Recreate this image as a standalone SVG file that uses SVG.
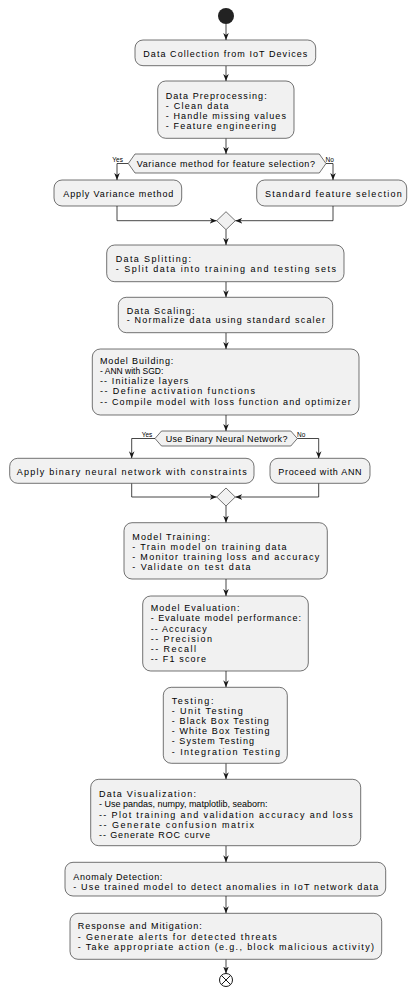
<svg xmlns="http://www.w3.org/2000/svg" width="408" height="988" viewBox="0 0 408 988">
<style>
.box{fill:#F1F1F1;stroke:#181818;stroke-width:0.6}
.t{font-family:"Liberation Sans",Arial,sans-serif;font-size:9px;fill:#000}
.lbl{font-family:"Liberation Sans",Arial,sans-serif;font-size:6.5px;fill:#000}
.c{fill:none;stroke:#181818;stroke-width:0.8;marker-end:url(#ah)}
</style>
<defs>
<marker id="ah" viewBox="0 0 10 10" refX="10" refY="5" markerWidth="7" markerHeight="7" markerUnits="userSpaceOnUse" orient="auto"><path d="M0,1 L10,5 L0,9 L3,5 Z" fill="#181818"/></marker>
</defs>
<rect width="408" height="988" fill="#FFFFFF"/>
<g id="connectors">
<path class="c" d="M226,24 V40"/>
<path class="c" d="M226,65.7 V81"/>
<path class="c" d="M226,138.3 V154"/>
<path class="c" d="M128.3,163.5 H117 V180"/>
<path class="c" d="M326,163.5 H333 V180"/>
<path class="c" d="M117,206 V220.7 H216.7"/>
<path class="c" d="M333,206 V220.7 H235.3"/>
<path class="c" d="M226,229.7 V245"/>
<path class="c" d="M226,281.7 V297.3"/>
<path class="c" d="M226,332.7 V349"/>
<path class="c" d="M226,415 V431"/>
<path class="c" d="M155,438.5 H131.7 V458.3"/>
<path class="c" d="M297.3,438.5 H318.7 V458.3"/>
<path class="c" d="M131.7,483.3 V497 H216.7"/>
<path class="c" d="M318.7,483.3 V497 H235.3"/>
<path class="c" d="M226,506 V522.7"/>
<path class="c" d="M226,579 V596"/>
<path class="c" d="M226,671 V687.3"/>
<path class="c" d="M226,763.3 V779.3"/>
<path class="c" d="M226,845.7 V862.3"/>
<path class="c" d="M226,896 V913.3"/>
<path class="c" d="M226,959.3 V973.5"/>
<text class="lbl" x="112.3" y="162">Yes</text>
<text class="lbl" x="325.5" y="161.5">No</text>
<text class="lbl" x="141.7" y="437">Yes</text>
<text class="lbl" x="297" y="436.5">No</text>
</g>
<g id="start"><circle cx="226" cy="16" r="8" fill="#222222"/></g>
<g id="n1"><rect class="box" x="135" y="40" width="180.7" height="25.7" rx="8"/>
<text class="t" x="143.3" y="56.8" textLength="164">Data Collection from IoT Devices</text></g>
<g id="n2"><rect class="box" x="157.7" y="81" width="136.3" height="57.3" rx="8"/>
<text class="t" x="165.7" y="98.8" textLength="101">Data Preprocessing:</text>
<text class="t" x="165.7" y="108.9" textLength="62.7">- Clean data</text>
<text class="t" x="165.7" y="119" textLength="120.3">- Handle missing values</text>
<text class="t" x="165.7" y="129.1" textLength="110.3">- Feature engineering</text></g>
<g id="d1"><polygon class="box" points="128.3,163.5 135,154 319.3,154 326,163.5 319.3,173 135,173"/>
<text class="t" x="136.7" y="166.8" textLength="178.3">Variance method for feature selection?</text></g>
<g id="n3"><rect class="box" x="54" y="180" width="127.7" height="26" rx="8"/>
<text class="t" x="63.3" y="197" textLength="110">Apply Variance method</text></g>
<g id="n4"><rect class="box" x="256.7" y="180" width="150" height="26" rx="8"/>
<text class="t" x="265" y="197" textLength="136.7">Standard feature selection</text></g>
<g id="m1"><polygon class="box" points="226,211.7 235.3,220.7 226,229.7 216.7,220.7"/></g>
<g id="n5"><rect class="box" x="106.7" y="245" width="237.3" height="36.7" rx="8"/>
<text class="t" x="115.7" y="262" textLength="75.3">Data Splitting:</text>
<text class="t" x="115.7" y="272.3" textLength="220.3">- Split data into training and testing sets</text></g>
<g id="n6"><rect class="box" x="118.3" y="297.3" width="214.4" height="35.4" rx="8"/>
<text class="t" x="126.7" y="314" textLength="67.7">Data Scaling:</text>
<text class="t" x="126.7" y="323.3" textLength="198.3">- Normalize data using standard scaler</text></g>
<g id="n7"><rect class="box" x="92.3" y="349" width="266.7" height="66" rx="8"/>
<text class="t" x="100" y="363.7" textLength="73.3">Model Building:</text>
<text class="t" x="100" y="374" style="font-size:8.5px">- ANN with SGD:</text>
<text class="t" x="100" y="384.3" textLength="88.3">-- Initialize layers</text>
<text class="t" x="100" y="394.4" textLength="155">-- Define activation functions</text>
<text class="t" x="100" y="404.7" textLength="250.7">-- Compile model with loss function and optimizer</text></g>
<g id="d2"><polygon class="box" points="155,438.5 161.5,431 290.8,431 297.3,438.5 290.8,446 161.5,446"/>
<text class="t" x="165.7" y="441.7" textLength="121.7">Use Binary Neural Network?</text></g>
<g id="n8"><rect class="box" x="9.7" y="458.3" width="244.3" height="25" rx="8"/>
<text class="t" x="16.7" y="474.7" textLength="230">Apply binary neural network with constraints</text></g>
<g id="n9"><rect class="box" x="270" y="458.3" width="100" height="25" rx="8"/>
<text class="t" x="278.3" y="474.7" textLength="83.3">Proceed with ANN</text></g>
<g id="m2"><polygon class="box" points="226,488 235.3,497 226,506 216.7,497"/></g>
<g id="n10"><rect class="box" x="124" y="522.7" width="203.3" height="56.3" rx="8"/>
<text class="t" x="132.3" y="539.7" textLength="77.7">Model Training:</text>
<text class="t" x="132.3" y="549.8" textLength="154.3">- Train model on training data</text>
<text class="t" x="132.3" y="560" textLength="187">- Monitor training loss and accuracy</text>
<text class="t" x="132.3" y="570.2" textLength="118.3">- Validate on test data</text></g>
<g id="n11"><rect class="box" x="142.7" y="596" width="165.6" height="75" rx="8"/>
<text class="t" x="150.7" y="611" textLength="88.7">Model Evaluation:</text>
<text class="t" x="150.7" y="621.3" textLength="150.3">- Evaluate model performance:</text>
<text class="t" x="150.7" y="631.6" textLength="56">-- Accuracy</text>
<text class="t" x="150.7" y="641.8" textLength="61.3">-- Precision</text>
<text class="t" x="150.7" y="652" textLength="45.3">-- Recall</text>
<text class="t" x="150.7" y="662.2" textLength="55.3">-- F1 score</text></g>
<g id="n12"><rect class="box" x="163.3" y="687.3" width="124" height="76" rx="8"/>
<text class="t" x="171.7" y="703.7" textLength="41.7">Testing:</text>
<text class="t" x="171.7" y="713.9" textLength="71">- Unit Testing</text>
<text class="t" x="171.7" y="724.1" textLength="97">- Black Box Testing</text>
<text class="t" x="171.7" y="734.3" textLength="97.7">- White Box Testing</text>
<text class="t" x="171.7" y="744.4" textLength="82.3">- System Testing</text>
<text class="t" x="171.7" y="754.6" textLength="108.3">- Integration Testing</text></g>
<g id="n13"><rect class="box" x="90.7" y="779.3" width="270" height="66.4" rx="8"/>
<text class="t" x="99" y="797.3" textLength="97">Data Visualization:</text>
<text class="t" x="99" y="807.4">- Use pandas, numpy, matplotlib, seaborn:</text>
<text class="t" x="99" y="817.5" textLength="253.7">-- Plot training and validation accuracy and loss</text>
<text class="t" x="99" y="827.7" textLength="155">-- Generate confusion matrix</text>
<text class="t" x="99" y="837.8" textLength="111">-- Generate ROC curve</text></g>
<g id="n14"><rect class="box" x="65" y="862.3" width="320.7" height="33.7" rx="8"/>
<text class="t" x="73.3" y="879.7" textLength="89">Anomaly Detection:</text>
<text class="t" x="73.3" y="889.6" textLength="305">- Use trained model to detect anomalies in IoT network data</text></g>
<g id="n15"><rect class="box" x="70" y="913.3" width="311.7" height="46" rx="8"/>
<text class="t" x="77.7" y="929.3" textLength="124">Response and Mitigation:</text>
<text class="t" x="77.7" y="939.5" textLength="199">- Generate alerts for detected threats</text>
<text class="t" x="77.7" y="949.7" textLength="296.3">- Take appropriate action (e.g., block malicious activity)</text></g>
<g id="end"><circle cx="226" cy="980" r="6.5" fill="none" stroke="#181818" stroke-width="1"/>
<path d="M221.4,975.4 L230.6,984.6 M230.6,975.4 L221.4,984.6" stroke="#181818" stroke-width="1"/></g>
</svg>
